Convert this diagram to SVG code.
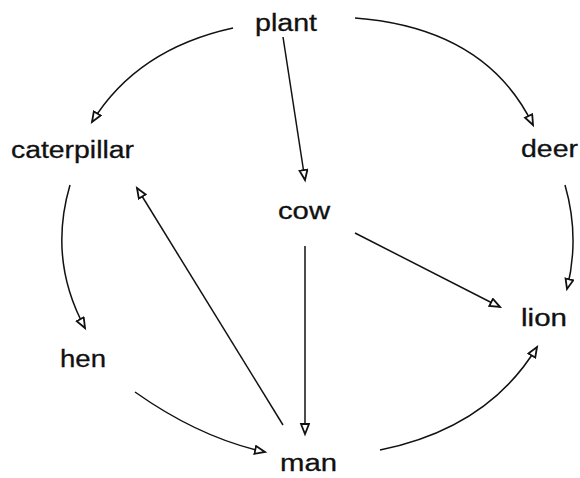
<svg xmlns="http://www.w3.org/2000/svg" width="580" height="478" viewBox="0 0 580 478">
<style>
text{font-family:"Liberation Sans",Arial,sans-serif;font-size:23px;fill:#111;stroke:#111;stroke-width:0.3}
.c{fill:none;stroke:#111;stroke-width:1.5;marker-end:url(#ah)}
</style>
<defs>
<marker id="ah" markerUnits="userSpaceOnUse" markerWidth="14" markerHeight="12" refX="11" refY="5" orient="auto">
<path d="M1,1 L11,5 L1,9 Z" fill="#fff" stroke="#111" stroke-width="1.8"/>
</marker>
</defs>
<rect width="580" height="478" fill="#fff"/>
<g id="connectors">
<path class="c" d="M233,28 Q137,49 92,122"/>
<path class="c" d="M355,18 Q486,28 533,125"/>
<path class="c" d="M283,37 L305,180"/>
<path class="c" d="M70,185 Q48,260 85,328"/>
<path class="c" d="M283,425 L137,188"/>
<path class="c" d="M135,392 Q200,438 265,452"/>
<path class="c" d="M305,246 L305,434"/>
<path class="c" d="M355,233 L500,307"/>
<path class="c" d="M565,185 Q580,237 567,289"/>
<path class="c" d="M380,450 Q488,428 537,347"/>
</g>
<g id="plant"><text x="255" y="31" textLength="62" lengthAdjust="spacingAndGlyphs">plant</text></g>
<g id="caterpillar"><text x="11" y="158" textLength="123" lengthAdjust="spacingAndGlyphs">caterpillar</text></g>
<g id="deer"><text x="521" y="157" textLength="57" lengthAdjust="spacingAndGlyphs">deer</text></g>
<g id="cow"><text x="278" y="219" textLength="52" lengthAdjust="spacingAndGlyphs">cow</text></g>
<g id="lion"><text x="521" y="326" textLength="46" lengthAdjust="spacingAndGlyphs">lion</text></g>
<g id="hen"><text x="60" y="367" textLength="46" lengthAdjust="spacingAndGlyphs">hen</text></g>
<g id="man"><text x="280" y="471" textLength="57" lengthAdjust="spacingAndGlyphs">man</text></g>
</svg>
